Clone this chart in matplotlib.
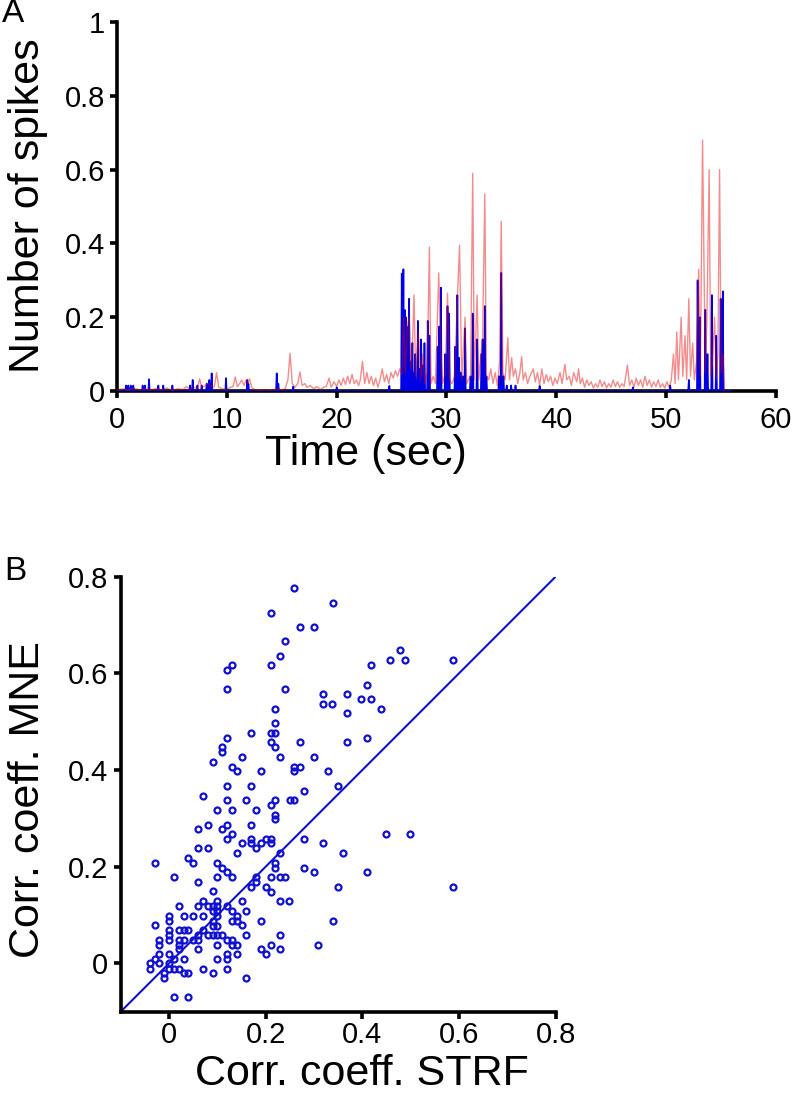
import numpy as np
import matplotlib
matplotlib.use("Agg")
import matplotlib.pyplot as plt

plt.rcParams['font.family'] = ['Liberation Sans', 'DejaVu Sans']

# --- Panel A: spike counts over time ---
# red trace (model prediction): (time, value) knots
red_pts = [
    (0.0, 0.003), (0.5, 0.006), (1.0, 0.002), (1.5, 0.008), (2.0, 0.003), (2.5, 0.006),
    (3.0, 0.002), (3.5, 0.007), (4.0, 0.003), (4.5, 0.008), (5.0, 0.002), (5.5, 0.006),
    (6.0, 0.004), (6.3, 0.012), (6.6, 0.005), (7.0, 0.010), (7.3, 0.006), (7.5, 0.033),
    (7.7, 0.008), (8.0, 0.015), (8.3, 0.020), (8.6, 0.010), (8.85, 0.012), (9.05, 0.050),
    (9.25, 0.010), (9.6, 0.006), (10.0, 0.004), (10.3, 0.010), (10.55, 0.012), (10.75, 0.038),
    (10.95, 0.012), (11.15, 0.020), (11.35, 0.030), (11.55, 0.015), (11.75, 0.030), (11.9, 0.020),
    (12.05, 0.033), (12.25, 0.010), (12.5, 0.004), (13.0, 0.002), (13.5, 0.004), (14.0, 0.002),
    (14.5, 0.006), (15.0, 0.003), (15.3, 0.006), (15.55, 0.030), (15.75, 0.102), (15.95, 0.020),
    (16.2, 0.010), (16.45, 0.020), (16.65, 0.052), (16.85, 0.015), (17.1, 0.020), (17.3, 0.010),
    (17.6, 0.015), (17.9, 0.006), (18.2, 0.012), (18.5, 0.004), (18.8, 0.010), (19.05, 0.012),
    (19.3, 0.035), (19.5, 0.010), (19.75, 0.025), (20.0, 0.012), (20.2, 0.030), (20.4, 0.015),
    (20.6, 0.035), (20.8, 0.018), (21.0, 0.040), (21.2, 0.020), (21.4, 0.045), (21.6, 0.020),
    (21.8, 0.030), (22.0, 0.015), (22.15, 0.030), (22.35, 0.080), (22.55, 0.020), (22.75, 0.050),
    (22.95, 0.020), (23.15, 0.040), (23.35, 0.015), (23.55, 0.035), (23.75, 0.010), (23.95, 0.030),
    (24.15, 0.060), (24.35, 0.025), (24.55, 0.045), (24.75, 0.020), (24.95, 0.050), (25.15, 0.035),
    (25.35, 0.055), (25.55, 0.040), (25.75, 0.060), (25.95, 0.045), (26.1, 0.200), (26.25, 0.050),
    (26.45, 0.180), (26.6, 0.200), (26.75, 0.060), (26.9, 0.120), (27.05, 0.260), (27.2, 0.040),
    (27.45, 0.160), (27.65, 0.030), (27.85, 0.100), (28.05, 0.020), (28.25, 0.050), (28.45, 0.390),
    (28.6, 0.020), (28.8, 0.040), (29.0, 0.020), (29.3, 0.320), (29.5, 0.100), (29.65, 0.020),
    (29.9, 0.050), (30.1, 0.265), (30.3, 0.030), (30.5, 0.020), (30.75, 0.040), (31.0, 0.250),
    (31.2, 0.395), (31.4, 0.030), (31.7, 0.200), (31.85, 0.020), (32.0, 0.030), (32.2, 0.040),
    (32.4, 0.590), (32.55, 0.030), (32.8, 0.260), (32.95, 0.030), (33.15, 0.100), (33.3, 0.140),
    (33.5, 0.534), (33.65, 0.040), (33.85, 0.030), (34.05, 0.060), (34.25, 0.020), (34.45, 0.050),
    (34.65, 0.015), (34.85, 0.080), (35.0, 0.460), (35.15, 0.050), (35.35, 0.030), (35.6, 0.144),
    (35.75, 0.030), (35.95, 0.090), (36.1, 0.040), (36.3, 0.060), (36.5, 0.020), (36.7, 0.050),
    (36.86, 0.093), (37.0, 0.030), (37.2, 0.050), (37.4, 0.020), (37.6, 0.040), (37.92, 0.060),
    (38.1, 0.025), (38.3, 0.050), (38.5, 0.015), (38.7, 0.060), (38.9, 0.020), (39.1, 0.045),
    (39.3, 0.025), (39.5, 0.040), (39.7, 0.015), (39.9, 0.035), (40.1, 0.020), (40.36, 0.050),
    (40.55, 0.020), (40.8, 0.072), (40.97, 0.030), (41.2, 0.040), (41.4, 0.015), (41.6, 0.050),
    (41.88, 0.025), (42.05, 0.060), (42.2, 0.020), (42.4, 0.035), (42.6, 0.010), (42.8, 0.030),
    (43.0, 0.015), (43.2, 0.025), (43.4, 0.008), (43.6, 0.020), (43.8, 0.010), (44.0, 0.030),
    (44.2, 0.012), (44.4, 0.025), (44.6, 0.008), (44.8, 0.020), (45.0, 0.010), (45.2, 0.030),
    (45.4, 0.012), (45.6, 0.025), (45.8, 0.010), (46.0, 0.020), (46.2, 0.012), (46.5, 0.070),
    (46.7, 0.015), (46.9, 0.030), (47.1, 0.010), (47.3, 0.035), (47.5, 0.015), (47.7, 0.030),
    (47.9, 0.010), (48.1, 0.040), (48.3, 0.015), (48.5, 0.030), (48.7, 0.010), (48.9, 0.025),
    (49.1, 0.012), (49.3, 0.030), (49.5, 0.010), (49.7, 0.020), (49.9, 0.008), (50.1, 0.025),
    (50.3, 0.010), (50.5, 0.030), (50.7, 0.100), (50.85, 0.020), (51.0, 0.160), (51.15, 0.030),
    (51.4, 0.200), (51.55, 0.040), (51.75, 0.150), (51.9, 0.030), (52.1, 0.250), (52.25, 0.040),
    (52.45, 0.130), (52.6, 0.030), (52.8, 0.080), (53.0, 0.330), (53.15, 0.040), (53.35, 0.680),
    (53.6, 0.050), (53.75, 0.200), (53.95, 0.600), (54.1, 0.040), (54.25, 0.080), (54.45, 0.200),
    (54.6, 0.030), (54.75, 0.100), (54.9, 0.600), (55.05, 0.050), (55.2, 0.100), (55.35, 0.0),
]
red_t = [p[0] for p in red_pts]
red_v = [p[1] for p in red_pts]

# blue trace (recorded spikes): (spike time, height)
blue_pts = [
    (0.79, 0.015), (1.0, 0.015), (1.22, 0.015), (1.46, 0.015), (2.31, 0.015), (2.52, 0.015),
    (2.89, 0.032), (3.74, 0.015), (4.19, 0.015), (5.02, 0.015), (6.63, 0.015), (6.87, 0.030),
    (7.3, 0.015), (7.69, 0.015), (8.15, 0.020), (8.39, 0.030), (8.6, 0.048), (9.91, 0.035),
    (11.85, 0.030), (11.95, 0.020), (14.53, 0.048), (14.68, 0.020), (16.04, 0.012), (20.0, 0.010),
    (24.8, 0.014), (25.93, 0.318), (26.08, 0.330), (26.2, 0.220), (26.3, 0.200), (26.38, 0.175),
    (26.5, 0.100), (26.6, 0.250), (26.75, 0.080), (26.9, 0.130), (27.05, 0.050), (27.15, 0.100),
    (27.4, 0.190), (27.55, 0.060), (27.7, 0.140), (27.9, 0.070), (28.0, 0.130), (28.3, 0.190),
    (28.45, 0.150), (29.2, 0.120), (29.35, 0.175), (29.5, 0.280), (29.9, 0.100), (30.1, 0.230),
    (30.25, 0.210), (30.8, 0.120), (31.0, 0.260), (31.15, 0.090), (31.3, 0.050), (31.5, 0.040),
    (31.7, 0.170), (32.2, 0.040), (32.4, 0.210), (32.8, 0.140), (33.2, 0.100), (33.3, 0.140),
    (33.5, 0.230), (33.65, 0.040), (34.8, 0.040), (35.0, 0.320), (35.2, 0.040), (35.5, 0.015),
    (35.9, 0.015), (36.3, 0.015), (38.5, 0.014), (47.0, 0.010), (50.4, 0.015), (52.1, 0.030),
    (52.9, 0.300), (53.1, 0.200), (53.6, 0.220), (53.8, 0.100), (54.2, 0.260), (54.6, 0.150),
    (55.0, 0.250), (55.2, 0.270),
]
blue_t = [p[0] for p in blue_pts]
blue_v = [p[1] for p in blue_pts]

a_xticks = [0, 10, 20, 30, 40, 50, 60]
a_yticks = [0, 0.2, 0.4, 0.6, 0.8, 1]
a_yticklabels = ["0", "0.2", "0.4", "0.6", "0.8", "1"]

# --- Panel B: correlation coefficients (STRF, MNE) per neuron ---
cc_pts = [
    (0.259, 0.776), (0.210, 0.725), (0.270, 0.696), (0.300, 0.696), (0.339, 0.746), (0.239, 0.666),
    (0.230, 0.636), (0.210, 0.616), (0.119, 0.607), (0.130, 0.616), (0.119, 0.567), (0.239, 0.567),
    (0.219, 0.527), (0.219, 0.497), (0.120, 0.467), (0.170, 0.477), (0.210, 0.477), (0.219, 0.477),
    (0.210, 0.457), (0.219, 0.447), (0.270, 0.457), (0.110, 0.447), (0.110, 0.437), (0.090, 0.417),
    (0.150, 0.427), (0.130, 0.407), (0.140, 0.397), (0.190, 0.397), (0.230, 0.427), (0.259, 0.407),
    (0.270, 0.407), (0.259, 0.397), (0.300, 0.427), (0.329, 0.397), (0.349, 0.367), (0.279, 0.357),
    (0.120, 0.367), (0.170, 0.367), (0.070, 0.347), (0.120, 0.338), (0.160, 0.338), (0.219, 0.338),
    (0.210, 0.327), (0.250, 0.338), (0.259, 0.338), (0.100, 0.318), (0.130, 0.318), (0.180, 0.318),
    (0.219, 0.307), (0.219, 0.298), (0.060, 0.278), (0.080, 0.287), (0.110, 0.278), (0.120, 0.287),
    (0.130, 0.268), (0.170, 0.287),
    (0.418, 0.616), (0.458, 0.627), (0.478, 0.647), (0.488, 0.627), (0.587, 0.627), (0.409, 0.576),
    (0.398, 0.547), (0.418, 0.547), (0.438, 0.527), (0.368, 0.556), (0.318, 0.556), (0.318, 0.536),
    (0.338, 0.536), (0.368, 0.517), (0.368, 0.457), (0.409, 0.467), (0.448, 0.268), (0.498, 0.268),
    (0.279, 0.258),
    (-0.03, 0.208), (0.01, 0.178), (0.04, 0.218), (0.05, 0.208), (0.06, 0.238), (0.08, 0.238),
    (0.06, 0.168), (0.10, 0.208), (0.11, 0.198), (0.12, 0.188), (0.10, 0.178), (0.13, 0.178),
    (0.12, 0.258), (0.14, 0.228), (0.15, 0.248), (0.17, 0.258), (0.17, 0.248), (0.18, 0.238),
    (0.19, 0.248), (0.20, 0.258), (0.21, 0.258), (0.21, 0.248), (0.23, 0.228), (0.219, 0.208),
    (0.219, 0.198), (0.21, 0.178), (0.23, 0.178), (0.239, 0.178), (0.18, 0.178), (0.18, 0.168),
    (0.17, 0.158), (0.20, 0.158), (0.21, 0.148), (0.319, 0.248), (0.359, 0.228), (0.279, 0.198),
    (0.299, 0.188), (0.409, 0.188), (0.349, 0.158), (0.23, 0.129), (0.249, 0.129), (0.339, 0.088),
    (0.309, 0.038), (0.23, 0.058), (0.23, 0.029), (0.21, 0.038), (0.19, 0.029), (0.20, 0.019),
    (0.19, 0.088), (0.16, 0.058), (0.16, 0.108), (0.15, 0.129), (0.16, -0.030), (0.09, 0.149),
    (0.06, 0.118), (0.07, 0.129), (0.08, 0.118), (0.09, 0.118), (0.10, 0.129), (0.10, 0.118),
    (0.10, 0.109), (0.09, 0.109), (0.12, 0.118), (0.13, 0.109), (0.14, 0.098), (0.13, 0.088),
    (0.14, 0.088), (0.15, 0.079), (0.02, 0.118), (0.00, 0.098), (0.00, 0.088), (0.03, 0.098),
    (0.05, 0.098), (0.07, 0.098), (0.09, 0.088), (0.10, 0.098), (0.09, 0.078), (0.10, 0.078),
    (-0.03, 0.079), (0.00, 0.068), (0.00, 0.058), (0.00, 0.048), (0.02, 0.068), (0.03, 0.068),
    (0.04, 0.068), (0.02, 0.048), (0.03, 0.048), (0.02, 0.038), (0.02, 0.029), (0.05, 0.048),
    (0.06, 0.058), (0.06, 0.048), (0.07, 0.068), (0.08, 0.058), (0.09, 0.058), (0.10, 0.058),
    (0.11, 0.058), (0.12, 0.048), (0.13, 0.048), (0.13, 0.038), (0.14, 0.038), (0.14, 0.019),
    (0.10, 0.038), (0.06, 0.029), (0.12, 0.019), (0.12, 0.009), (0.10, 0.009), (0.12, -0.011),
    (0.07, -0.011), (0.09, -0.021), (-0.02, 0.038), (-0.02, 0.048), (-0.02, 0.019), (-0.03, 0.009),
    (-0.04, 0.000), (-0.04, -0.011), (-0.02, 0.000), (0.00, 0.019), (0.01, 0.009), (0.00, 0.000),
    (0.00, -0.011), (-0.01, -0.021), (-0.01, -0.030), (0.01, -0.011), (0.02, -0.011), (0.03, -0.021),
    (0.04, -0.021), (0.03, 0.009), (0.01, -0.070), (0.04, -0.070), (0.587, 0.158),
]
strf = [p[0] for p in cc_pts]
mne = [p[1] for p in cc_pts]

b_ticks = [0, 0.2, 0.4, 0.6, 0.8]
b_ticklabels = ["0", "0.2", "0.4", "0.6", "0.8"]
diag = [-0.1, 0.8]

W, H = 796, 1111
fig = plt.figure(figsize=(W / 100, H / 100), dpi=100)


def style_axes(ax, xpad):
    for side in ["top", "right"]:
        ax.spines[side].set_visible(False)
    for side in ["left", "bottom"]:
        ax.spines[side].set_linewidth(2.6)
    ax.tick_params(direction="out", length=5, width=2.6, labelsize=21, pad=4)
    ax.tick_params(axis="x", pad=xpad)


# panel A
axA = fig.add_axes([117.3 / W, 1 - 391 / H, 658.2 / W, 369 / H])
# blue spikes: each spike rises from zero and falls back
bt, bv = [0.0], [0.0]
for t, v in zip(blue_t, blue_v):
    bt += [t - 0.06, t, t + 0.06]
    bv += [0.0, v, 0.0]
bt.append(56.0)
bv.append(0.0)
axA.plot(bt, bv, color="#0000e6", lw=1.2, zorder=3)
axA.plot(red_t, red_v, color="#e60000", lw=1.0, alpha=0.45, zorder=4)
axA.set_xlim(0, 60)
axA.set_ylim(0, 1)
axA.set_xticks(a_xticks)
axA.set_yticks(a_yticks)
axA.set_yticklabels(a_yticklabels)
style_axes(axA, 6)

fig.text(28 / W, 1 - 206 / H, "Number of spikes", rotation=90, ha="center", va="center", fontsize=31)
fig.text(366 / W, 1 - 454 / H, "Time (sec)", ha="center", va="center", fontsize=31)
fig.text(13 / W, 1 - 14 / H, "A", ha="center", va="center", fontsize=24)

# panel B
axB = fig.add_axes([120.7 / W, 1 - 1011.7 / H, 435.1 / W, 435.2 / H])
axB.plot(diag, diag, color="#1010d0", lw=1.5, zorder=2)
axB.plot(strf, mne, "o", ms=4.3, mfc="none", mec="#1010d0", mew=1.6, zorder=3, clip_on=False)
axB.set_xlim(-0.1, 0.8)
axB.set_ylim(-0.1, 0.8)
axB.set_xticks(b_ticks)
axB.set_xticklabels(b_ticklabels)
axB.set_yticks(b_ticks)
axB.set_yticklabels(b_ticklabels)
style_axes(axB, 2)

fig.text(28 / W, 1 - 800 / H, "Corr. coeff. MNE", rotation=90, ha="center", va="center", fontsize=31)
fig.text(362 / W, 1 - 1074 / H, "Corr. coeff. STRF", ha="center", va="center", fontsize=31)
fig.text(15 / W, 1 - 572 / H, "B", ha="center", va="center", fontsize=24)

fig.savefig("out.png", dpi=100)
